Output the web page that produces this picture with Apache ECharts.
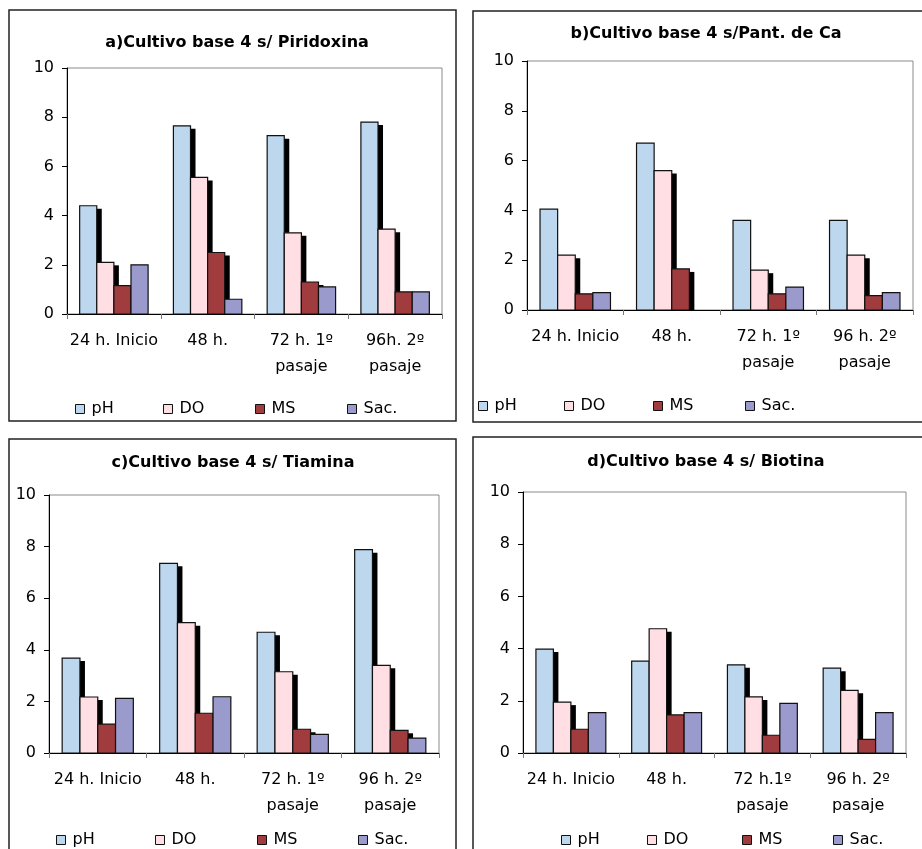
<!DOCTYPE html>
<html>
<head>
<meta charset="utf-8">
<script src="https://cdn.jsdelivr.net/npm/echarts@6/dist/echarts.min.js"></script>
<style>
html,body{margin:0;padding:0;background:#fff;}
#chart{width:922px;height:849px;}
</style>
</head>
<body>
<div id="chart"></div>
<script>
// ---- data ----
const seriesNames = ['pH', 'DO', 'MS', 'Sac.'];
const yTicks = [0, 2, 4, 6, 8, 10];

const titleA = 'a)Cultivo base 4 s/ Piridoxina';
const categoriesA = ['24 h. Inicio', '48 h.', '72 h. 1º\npasaje', '96h. 2º\npasaje'];
const phA  = [4.4, 7.65, 7.25, 7.8];
const doA  = [2.1, 5.55, 3.3, 3.45];
const msA  = [1.15, 2.5, 1.3, 0.9];
const sacA = [2.0, 0.6, 1.1, 0.9];

const titleB = 'b)Cultivo base 4 s/Pant. de Ca';
const categoriesB = ['24 h. Inicio', '48 h.', '72 h. 1º\npasaje', '96 h. 2º\npasaje'];
const phB  = [4.05, 6.7, 3.6, 3.6];
const doB  = [2.2, 5.6, 1.6, 2.2];
const msB  = [0.65, 1.65, 0.65, 0.58];
const sacB = [0.7, null, 0.92, 0.7];

const titleC = 'c)Cultivo base 4 s/ Tiamina';
const categoriesC = ['24 h. Inicio', '48 h.', '72 h. 1º\npasaje', '96 h. 2º\npasaje'];
const phC  = [3.68, 7.35, 4.68, 7.88];
const doC  = [2.17, 5.05, 3.15, 3.4];
const msC  = [1.12, 1.54, 0.92, 0.88];
const sacC = [2.12, 2.18, 0.72, 0.58];

const titleD = 'd)Cultivo base 4 s/ Biotina';
const categoriesD = ['24 h. Inicio', '48 h.', '72 h.1º\npasaje', '96 h. 2º\npasaje'];
const phD  = [3.98, 3.52, 3.38, 3.25];
const doD  = [1.95, 4.76, 2.15, 2.4];
const msD  = [0.91, 1.46, 0.68, 0.52];
const sacD = [1.55, 1.55, 1.9, 1.55];

// ---- layout / style ----
const colors = ['#BDD7EE', '#FFDFE3', '#A03C3E', '#9A9ACC'];
const FONT = 'DejaVu Sans';
const CAT_GAP = 0.27;

const panels = [
  { title: titleA, cats: categoriesA, values: [phA, doA, msA, sacA], shadow: [true, true, true, false],
    grid: {left: 67, top: 68, width: 375, height: 246}, titleX: 237, titleY: 35,
    legendX: [75, 163, 255, 347], legendY: 401, box: [9, 10, 447, 411] },
  { title: titleB, cats: categoriesB, values: [phB, doB, msB, sacB], shadow: [false, true, true, false],
    grid: {left: 527, top: 61, width: 386, height: 249}, titleX: 706, titleY: 26,
    legendX: [478, 564, 653, 745], legendY: 398, box: [473, 11, 470, 411] },
  { title: titleC, cats: categoriesC, values: [phC, doC, msC, sacC], shadow: [true, true, true, false],
    grid: {left: 49, top: 495, width: 390, height: 258}, titleX: 233, titleY: 455,
    legendX: [56, 155, 257, 358], legendY: 832, box: [9, 439, 447, 430] },
  { title: titleD, cats: categoriesD, values: [phD, doD, msD, sacD], shadow: [true, true, true, false],
    grid: {left: 523, top: 492, width: 383, height: 261}, titleX: 706, titleY: 454,
    legendX: [561, 647, 742, 833], legendY: 832, box: [473, 437, 470, 430] }
];

function makeRenderer(k, nSeries, withShadow, color) {
  return function (params, api) {
    const cat = api.value(0);
    const val = api.value(1);
    const base = api.coord([cat, 0]);
    const top = api.coord([cat, val]);
    const band = api.size([1, 0])[0];
    const bw = band * (1 - CAT_GAP) / nSeries;
    const x = base[0] - bw * nSeries / 2 + k * bw;
    const h = base[1] - top[1];
    const children = [];
    if (withShadow && h > 3) {
      children.push({
        type: 'rect',
        shape: { x: x + 5, y: top[1] + 3, width: bw, height: h - 3 },
        style: { fill: '#000' }
      });
    }
    children.push({
      type: 'rect',
      shape: { x: x, y: top[1], width: bw, height: h },
      style: { fill: color, stroke: '#111', lineWidth: 1.2 }
    });
    return { type: 'group', children: children };
  };
}

const option = {
  animation: false,
  backgroundColor: '#ffffff',
  title: [], grid: [], xAxis: [], yAxis: [], series: [], legend: [], graphic: []
};

panels.forEach((p, i) => {
  option.title.push({
    text: p.title, left: p.titleX, top: p.titleY, textAlign: 'center', padding: 0,
    textStyle: { fontFamily: FONT, fontSize: 16, fontWeight: 'bold', color: '#000' }
  });
  option.grid.push(Object.assign({ show: true, borderColor: '#8a8a8a', borderWidth: 1, backgroundColor: 'transparent' }, p.grid));
  option.xAxis.push({
    type: 'category', gridIndex: i, data: p.cats, z: 6,
    axisLine: { show: true, lineStyle: { color: '#000', width: 1 } },
    axisTick: { show: true, length: 5, lineStyle: { color: '#777' } },
    axisLabel: { fontFamily: FONT, fontSize: 16, color: '#000', margin: 14, lineHeight: 26, interval: 0 },
    splitLine: { show: false }
  });
  option.yAxis.push({
    type: 'value', gridIndex: i, min: yTicks[0], max: yTicks[yTicks.length - 1], interval: 2, z: 6,
    axisLine: { show: true, lineStyle: { color: '#000', width: 1 } },
    axisTick: { show: true, length: 5, lineStyle: { color: '#000' } },
    axisLabel: { fontFamily: FONT, fontSize: 16, color: '#000', margin: 13 },
    splitLine: { show: false }
  });
  p.values.forEach((vals, k) => {
    const data = [];
    vals.forEach((v, c) => { if (v !== null) data.push([c, v]); });
    option.series.push({
      type: 'custom', name: seriesNames[k], xAxisIndex: i, yAxisIndex: i,
      data: data, z: 2, silent: true,
      encode: { x: 0, y: 1 },
      itemStyle: { color: colors[k], borderColor: '#111', borderWidth: 1 },
      renderItem: makeRenderer(k, p.values.length, p.shadow[k], colors[k])
    });
  });
  seriesNames.forEach((n, k) => {
    option.legend.push({
      data: [{ name: n, icon: 'rect', itemStyle: { color: colors[k], borderColor: '#111', borderWidth: 1 } }],
      left: p.legendX[k], top: p.legendY, padding: 0, selectedMode: false,
      itemWidth: 9, itemHeight: 9, itemGap: 0,
      textStyle: { fontFamily: FONT, fontSize: 16, color: '#000', padding: [0, 0, 0, 2] }
    });
  });
  option.graphic.push({
    type: 'rect', z: 0, silent: true,
    shape: { x: p.box[0], y: p.box[1], width: p.box[2], height: p.box[3] },
    style: { fill: 'none', stroke: '#222', lineWidth: 1.5 }
  });
});

const chart = echarts.init(document.getElementById('chart'), null, { renderer: 'canvas' });
chart.setOption(option);
</script>
</body>
</html>
